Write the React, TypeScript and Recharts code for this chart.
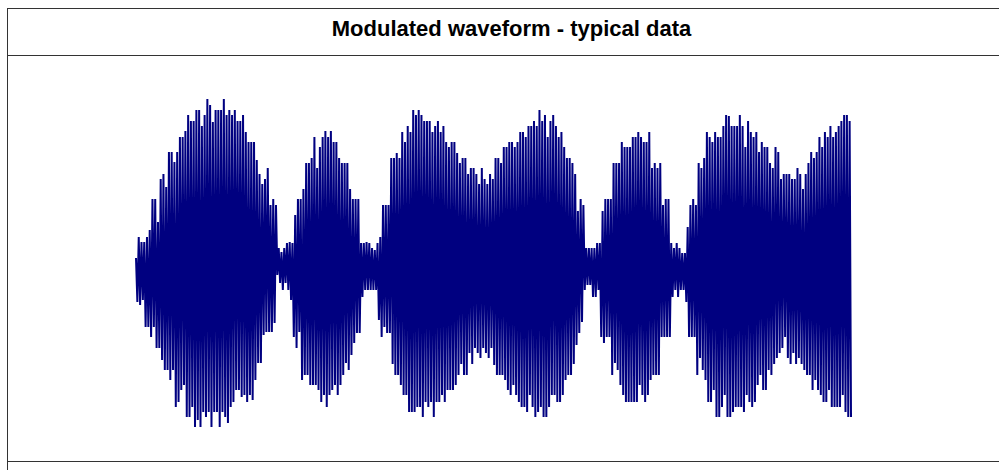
import { LineChart, Line, XAxis, YAxis } from 'recharts';

const TITLE = 'Modulated waveform - typical data';

// upper swing of each carrier cycle, 0 = centre line
const upperPeaks = [
  7, 28, 23, 23, 28, 35, 66, 66, 43, 86, 91, 78, 113, 113, 103, 113, 128, 128, 134, 150,
  144, 144, 155, 155, 139, 150, 166, 160, 143, 155, 155, 155, 166, 150, 155, 150, 155, 144, 144, 150,
  133, 123, 123,
  123, 105, 91, 81, 86, 97, 60, 66, 60, 17, 13, 17, 22, 23, 22, 50, 66, 66, 76, 102,
  102, 107, 128, 97, 118, 128, 134, 128, 134, 123, 123, 107, 102, 102, 102, 76, 66, 66, 66, 22,
  22, 23, 22,
  17, 15, 22, 28, 60, 60, 60, 107, 107, 112, 107, 133, 123, 139, 133, 155, 150, 155, 150, 144,
  144, 144, 133, 139, 144, 133, 139, 123, 118, 123, 123, 112, 102, 107, 107, 91, 97, 97, 91, 81,
  97, 86, 81, 91,
  86, 107, 107, 102, 118, 118, 123, 123, 118, 123, 133, 133, 128, 139, 139, 144, 139, 155, 144, 150,
  128, 144, 150, 139, 128, 133, 118, 107, 107, 102, 91, 54, 66, 60, 17, 17, 17, 17, 22, 22,
  54, 66, 66,
  66, 102, 102, 102, 123, 118, 118, 118, 128, 128, 133, 128, 123, 123, 133, 97, 102, 97, 102, 60,
  66, 66, 22, 17, 22, 17, 12, 12, 38, 60, 66, 60, 102, 97, 107, 133, 128, 123, 133, 128,
  128, 139, 150, 149,
  139, 139, 139, 150, 139, 118, 144, 133, 128, 133, 113, 123, 118, 118, 102, 97, 118, 113, 86, 91,
  91, 91, 86, 86, 97, 91, 76, 91, 102, 113, 107, 113, 128, 118, 133, 128, 139, 128, 133, 139,
  144, 150, 150, 144,
];

// lower swing of each carrier cycle
const lowerPeaks = [
  -37, -40, -35, -62, -62, -72, -62, -83, -83, -95, -105, -105, -115, -105, -142, -137, -125, -120, -152, -152,
  -142, -162, -155, -162, -147, -152, -147, -162, -147, -147, -162, -147, -152, -158, -142, -137, -125, -125, -132, -130,
  -137, -130, -135,
  -115, -98, -98, -70, -67, -67, -67, -58, -10, -18, -25, -18, -25, -35, -72, -83, -67, -115, -110, -110,
  -120, -120, -120, -125, -137, -130, -142, -130, -125, -120, -130, -120, -110, -98, -105, -90, -78, -68, -68, -32,
  -25, -25, -25,
  -25, -25, -55, -72, -62, -68, -68, -99, -110, -110, -120, -130, -130, -147, -147, -147, -142, -142, -152, -137,
  -142, -137, -152, -137, -137, -130, -137, -125, -125, -125, -120, -110, -99, -110, -110, -88, -99, -83, -88, -93,
  -83, -88, -93, -83,
  -100, -110, -110, -110, -115, -125, -130, -120, -130, -137, -142, -142, -147, -130, -142, -152, -147, -142, -152, -152,
  -142, -130, -130, -137, -137, -130, -115, -110, -110, -99, -80, -68, -57, -25, -20, -20, -32, -32, -25, -72,
  -78, -72, -72,
  -110, -98, -105, -120, -130, -137, -137, -137, -137, -137, -120, -130, -137, -130, -115, -110, -110, -110, -72, -72,
  -72, -72, -32, -25, -32, -25, -25, -37, -72, -72, -72, -110, -93, -105, -115, -137, -137, -125, -152, -152,
  -142, -130, -152, -152,
  -147, -142, -142, -142, -147, -130, -137, -142, -137, -120, -110, -125, -125, -105, -110, -99, -93, -88, -83, -72,
  -93, -99, -88, -99, -93, -99, -105, -110, -110, -125, -115, -125, -130, -137, -137, -125, -142, -142, -142, -142,
  -130, -147, -152, -152,
];

const data = upperPeaks.flatMap((u, i) => [
  { t: i * 2, v: u },
  { t: i * 2 + 1, v: lowerPeaks[i] },
]);

const FRAME = '#333333';

export default function App() {
  return (
    <div
      style={{
        position: 'absolute', left: 0, top: 0, width: 999, height: 470, overflow: 'hidden',
        background: '#fff', fontFamily: 'Arial, "Liberation Sans", sans-serif',
      }}
    >
      <div style={{ position: 'absolute', left: 7, top: 8, width: 1100, height: 600, border: `1px solid ${FRAME}`, boxSizing: 'border-box' }} />
      <div style={{ position: 'absolute', left: 7, top: 55, width: 1100, height: 1, background: FRAME }} />
      <div style={{ position: 'absolute', left: 7, top: 461, width: 1100, height: 1, background: FRAME }} />
      <div
        style={{
          position: 'absolute', left: 0, top: 18, width: 1023, textAlign: 'center',
          fontSize: 22, lineHeight: '22px', fontWeight: 'bold', color: '#000',
        }}
      >
        {TITLE}
      </div>
      <div style={{ position: 'absolute', left: 0, top: 0 }}>
        <LineChart width={999} height={470} data={data} margin={{ top: 65, right: 148, bottom: 5, left: 136 }}>
          <XAxis dataKey="t" type="number" domain={[0, data.length - 1]} hide />
          <YAxis domain={[-200, 200]} hide />
          <Line type="linear" dataKey="v" stroke="#000080" strokeWidth={2} dot={false} isAnimationActive={false} />
        </LineChart>
      </div>
    </div>
  );
}
